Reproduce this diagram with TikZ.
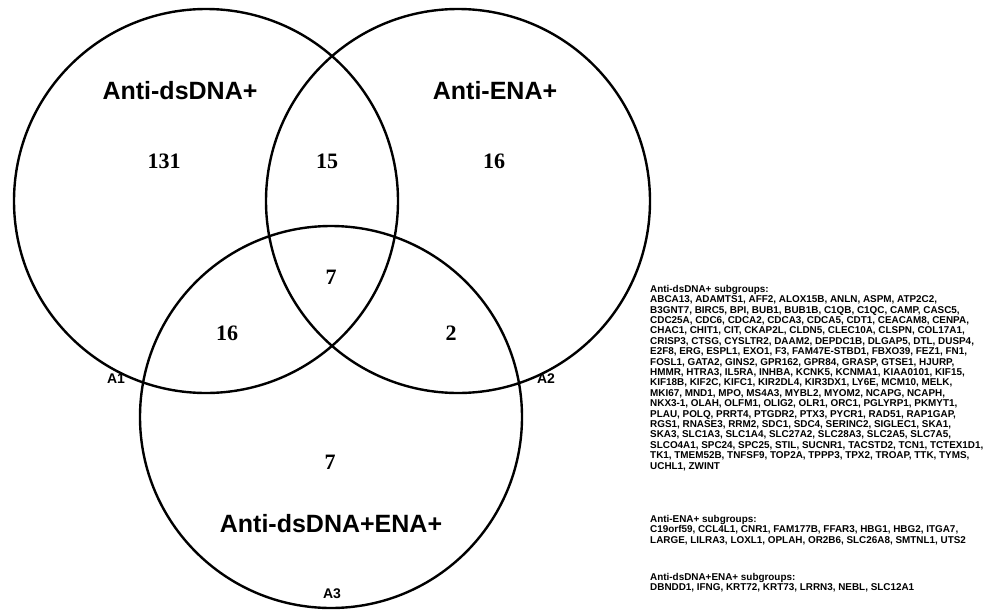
\documentclass[tikz,border=0pt]{standalone}
\usepackage{fontspec}
\setmainfont{Liberation Serif}
\newfontfamily\arialf{Liberation Sans}
\begin{document}
\begin{tikzpicture}[x=1pt,y=-1pt,
  vring/.style={draw=black,line width=2.4pt},
  settitle/.style={font=\arialf\bfseries\fontsize{25}{30}\selectfont,inner sep=0pt},
  count/.style={font=\bfseries\fontsize{22}{26}\selectfont,inner sep=0pt},
  setid/.style={font=\arialf\bfseries\fontsize{14}{16}\selectfont,inner sep=0pt},
  genes/.style={font=\arialf\bfseries\fontsize{9.9}{10.4}\selectfont,align=left,anchor=north west,inner sep=0pt}]
\useasboundingbox[fill=white] (0,0) rectangle (986,611);
\draw[vring] (206,201) circle[radius=192];
\draw[vring] (458,201) circle[radius=192];
\draw[vring] (331,417) circle[radius=191];
\node[settitle] (tA) at (180,91) {Anti-dsDNA+};
\node[settitle] (tB) at (495,91) {Anti-ENA+};
\node[settitle] (tC) at (331,524) {Anti-dsDNA+ENA+};
\node[count] (n131) at (164,161) {131};
\node[count] (n15) at (327,161) {15};
\node[count] (n16r) at (494,161) {16};
\node[count] (n7c) at (331,277) {7};
\node[count] (n16l) at (227,333) {16};
\node[count] (n2) at (451,333) {2};
\node[count] (n7b) at (330,462) {7};
\node[setid] (a1) at (116,379) {A1};
\node[setid] (a2) at (546,379) {A2};
\node[setid] (a3) at (332,594) {A3};
\node[genes] (g1) at (650,285) {Anti-dsDNA+ subgroups:\\
ABCA13, ADAMTS1, AFF2, ALOX15B, ANLN, ASPM, ATP2C2,\\
B3GNT7, BIRC5, BPI, BUB1, BUB1B, C1QB, C1QC, CAMP, CASC5,\\
CDC25A, CDC6, CDCA2, CDCA3, CDCA5, CDT1, CEACAM8, CENPA,\\
CHAC1, CHIT1, CIT, CKAP2L, CLDN5, CLEC10A, CLSPN, COL17A1,\\
CRISP3, CTSG, CYSLTR2, DAAM2, DEPDC1B, DLGAP5, DTL, DUSP4,\\
E2F8, ERG, ESPL1, EXO1, F3, FAM47E-STBD1, FBXO39, FEZ1, FN1,\\
FOSL1, GATA2, GINS2, GPR162, GPR84, GRASP, GTSE1, HJURP,\\
HMMR, HTRA3, IL5RA, INHBA, KCNK5, KCNMA1, KIAA0101, KIF15,\\
KIF18B, KIF2C, KIFC1, KIR2DL4, KIR3DX1, LY6E, MCM10, MELK,\\
MKI67, MND1, MPO, MS4A3, MYBL2, MYOM2, NCAPG, NCAPH,\\
NKX3-1, OLAH, OLFM1, OLIG2, OLR1, ORC1, PGLYRP1, PKMYT1,\\
PLAU, POLQ, PRRT4, PTGDR2, PTX3, PYCR1, RAD51, RAP1GAP,\\
RGS1, RNASE3, RRM2, SDC1, SDC4, SERINC2, SIGLEC1, SKA1,\\
SKA3, SLC1A3, SLC1A4, SLC27A2, SLC28A3, SLC2A5, SLC7A5,\\
SLCO4A1, SPC24, SPC25, STIL, SUCNR1, TACSTD2, TCN1, TCTEX1D1,\\
TK1, TMEM52B, TNFSF9, TOP2A, TPPP3, TPX2, TROAP, TTK, TYMS,\\
UCHL1, ZWINT};
\node[genes] (g2) at (650,515) {Anti-ENA+ subgroups:\\
C19orf59, CCL4L1, CNR1, FAM177B, FFAR3, HBG1, HBG2, ITGA7,\\
LARGE, LILRA3, LOXL1, OPLAH, OR2B6, SLC26A8, SMTNL1, UTS2};
\node[genes] (g3) at (650,573) {Anti-dsDNA+ENA+ subgroups:\\
DBNDD1, IFNG, KRT72, KRT73, LRRN3, NEBL, SLC12A1};
\end{tikzpicture}
\end{document}
